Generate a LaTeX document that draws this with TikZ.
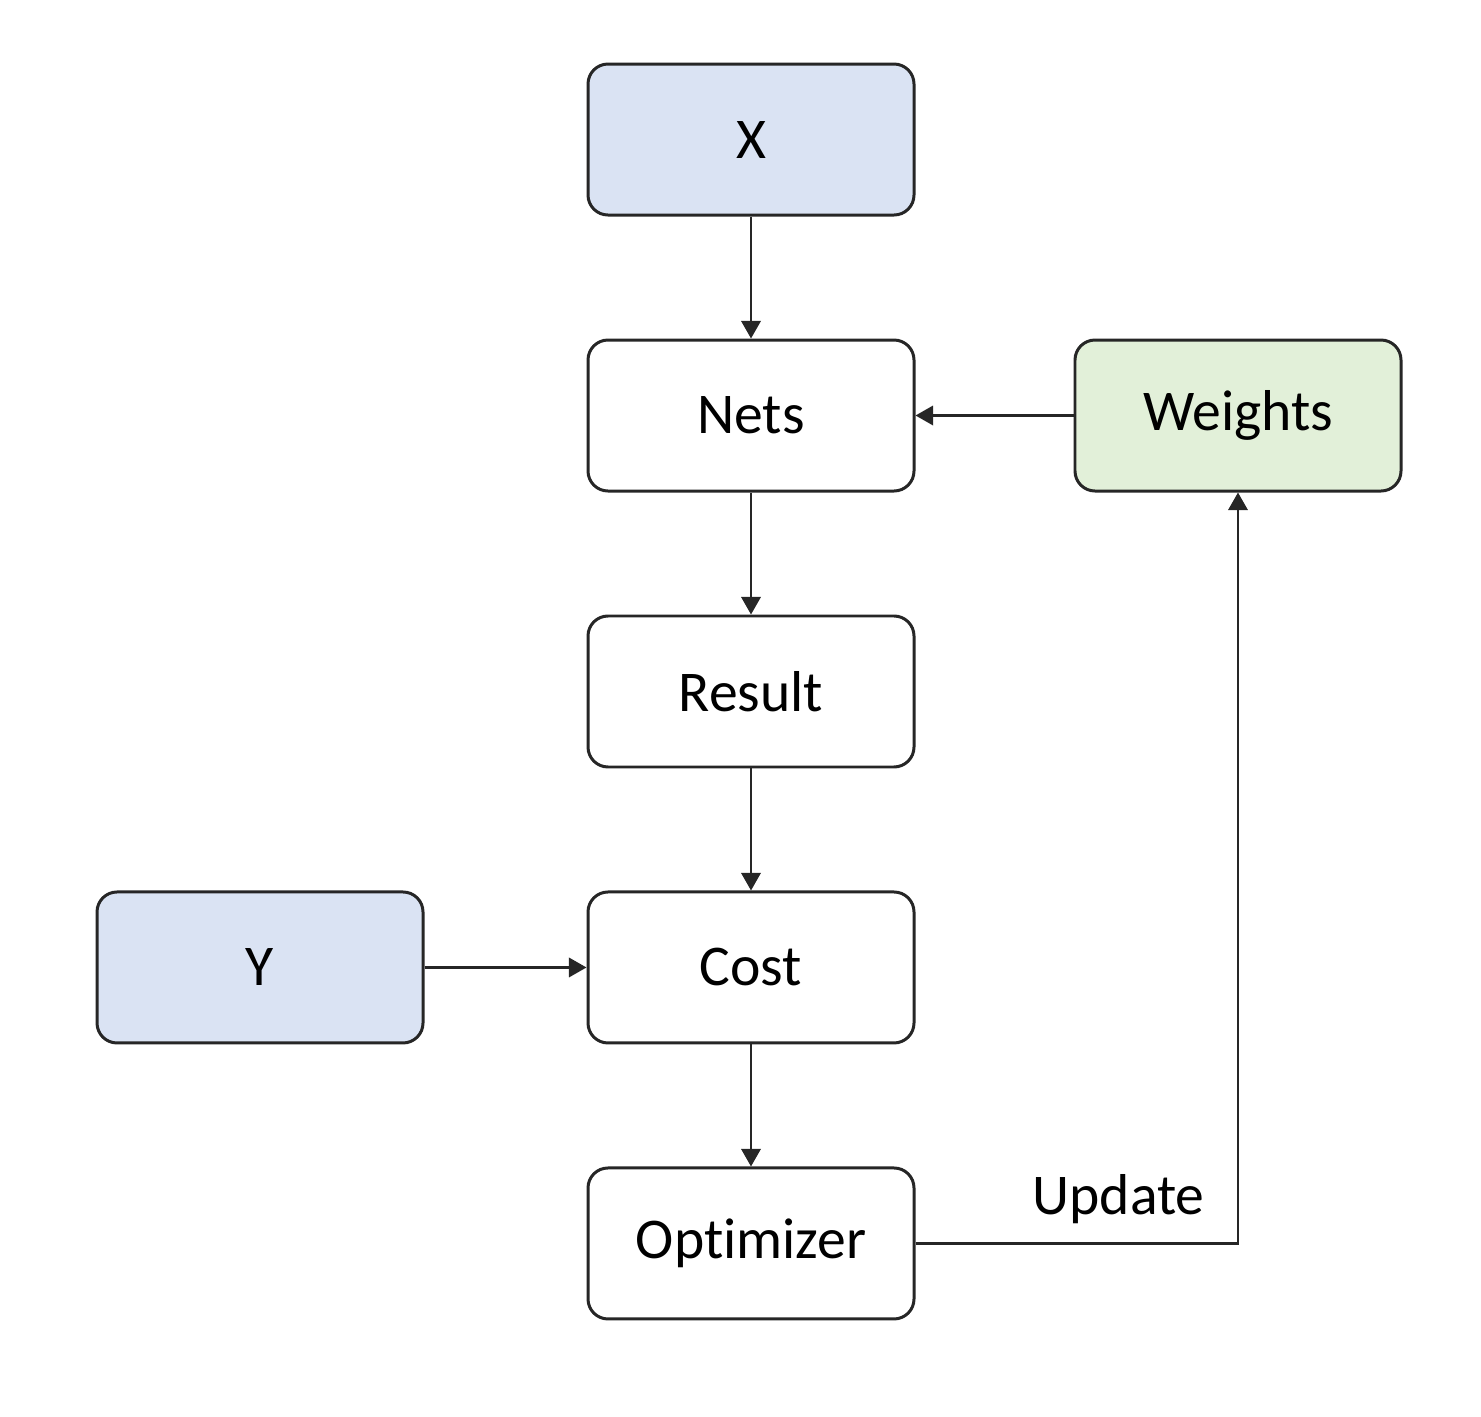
\documentclass[tikz,border=0pt]{standalone}
\usepackage{fontspec}
\setmainfont{Carlito}[Ligatures=NoCommon]
\usepackage{tikz}
\usetikzlibrary{positioning}
\usetikzlibrary{arrows.meta}
\definecolor{cblue}{HTML}{DAE3F3}
\definecolor{cgreen}{HTML}{E2F0D9}
\definecolor{cline}{HTML}{262626}
\tikzset{
  nbox/.style={draw=cline, line width=0.85pt, rounded corners=0.2cm,
    minimum width=3.26cm, minimum height=1.51cm, fill=white,
    font=\fontsize{16.4}{19}\selectfont},
  narrow/.style={draw=cline, line width=0.7pt,
    -{Triangle[length=5pt,width=5.5pt]}}
}
\begin{document}
\begin{tikzpicture}
            \useasboundingbox (0,0) rectangle (14.81,-14.16);
            % main column
            \node at (7.51,-1.395) [nbox,fill=cblue] (nX) {X};
            \node [nbox, below=1.22cm of nX]     (nNets)   {Nets};
            \node [nbox, below=1.22cm of nNets]  (nResult) {Result};
            \node [nbox, below=1.22cm of nResult](nCost)   {Cost};
            \node [nbox, below=1.22cm of nCost]  (nOpt)    {Optimizer};
            % side boxes
            \node [nbox, fill=cgreen, right=1.58cm of nNets] (nWeights) {Weights};
            \node [nbox, fill=cblue,  left=1.62cm of nCost]  (nY)       {Y};
            % arrows down the column
            \draw [narrow] (nX)      -- (nNets) ;
            \draw [narrow] (nNets)   -- (nResult) ;
            \draw [narrow] (nResult) -- (nCost) ;
            \draw [narrow] (nCost)   -- (nOpt) ;
            % arrows from the side
            \draw [narrow] (nWeights) -- (nNets) ;
            \draw [narrow] (nY)       -- (nCost) ;
            % update loop
            \draw [narrow] (nOpt) -| node [pos=0.315, yshift=0.44cm, font=\fontsize{16.4}{19}\selectfont] (nUpdate) {Update} (nWeights) ;
\end{tikzpicture}
\end{document}
